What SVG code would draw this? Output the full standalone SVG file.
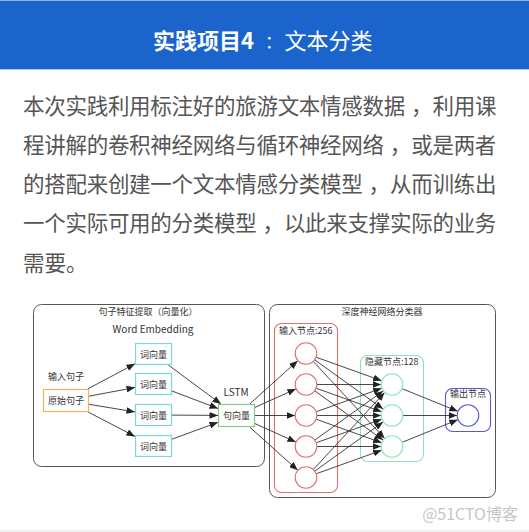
<svg xmlns="http://www.w3.org/2000/svg" width="529" height="532" viewBox="0 0 529 532">
<defs>
<marker id="ah" viewBox="0 0 10 8" refX="10" refY="4" markerWidth="8.5" markerHeight="6.8" markerUnits="userSpaceOnUse" orient="auto">
<path d="M0,0 L10,4 L0,8 Z" fill="#222"/>
</marker>
<style>
.cjk{font-family:"Noto Sans CJK SC","Noto Sans",sans-serif}
.hd{fill:#ffffff;font-size:22px}
.para{fill:#555555;font-size:21.5px}
.tight{letter-spacing:-0.28px}
.lbl{fill:#333333;font-size:9px}
.box{fill:none;stroke:#555555;stroke-width:1}
.wv{fill:#ffffff;stroke:#7dd8dc;stroke-width:1.2}
.src{fill:#ffffff;stroke:#f0b45a;stroke-width:1.2}
.sv{fill:#ffffff;stroke:#86c98a;stroke-width:1.2}
.c-in{fill:#ffffff;stroke:#e07070;stroke-width:1.1}
.c-hd{fill:#ffffff;stroke:#8fe3b8;stroke-width:1.1}
.c-out{fill:#ffffff;stroke:#5a5ad0;stroke-width:1.1}
#edges line{stroke:#333333;stroke-width:0.9;marker-end:url(#ah)}
</style>
</defs>
<rect x="0" y="0" width="529" height="532" fill="#ffffff"/>
<g id="header">
<rect x="0" y="0" width="529" height="70" fill="#1b64cc"/>
<line x1="0" y1="0.5" x2="529" y2="0.5" stroke="#8fb3e8" stroke-width="1"/>
<line x1="0" y1="69.5" x2="529" y2="69.5" stroke="#a9c6ee" stroke-width="1.2"/>
<text class="cjk hd" x="153" y="48.5" font-weight="bold">实践项目4</text>
<text class="cjk" x="265" y="47.5" style="fill:#ffffff;font-size:17px">：</text>
<text class="cjk hd" x="284.5" y="48.5">文本分类</text>
</g>
<g id="paragraph" class="cjk para">
<text class="tight" x="23" y="113.5">本次实践利用标注好的旅游文本情感数据</text>
<text x="411" y="113.5">，</text>
<text class="tight" x="432.5" y="113.5">利用课</text>
<text class="tight" x="23" y="152.5">程讲解的卷积神经网络与循环神经网络</text>
<text x="389.7" y="152.5">，</text>
<text class="tight" x="411.2" y="152.5">或是两者</text>
<text class="tight" x="23" y="192">的搭配来创建一个文本情感分类模型</text>
<text x="368.5" y="192">，</text>
<text class="tight" x="390" y="192">从而训练出</text>
<text class="tight" x="23" y="231">一个实际可用的分类模型</text>
<text x="262.4" y="231">，</text>
<text class="tight" x="283.9" y="231">以此来支撑实际的业务</text>
<text x="23" y="270.5">需要。</text>
</g>
<g id="feature-extraction">
<rect class="box" x="33.5" y="304.5" width="231" height="162" rx="8"/>
<text class="cjk lbl" x="148" y="314.5" text-anchor="middle">句子特征提取（向量化）</text>
<text class="cjk lbl" x="153" y="333" text-anchor="middle" style="font-size:10px">Word Embedding</text>
</g>
<g id="classifier">
<rect class="box" x="269.5" y="304.5" width="226" height="193" rx="8"/>
<text class="cjk lbl" x="382" y="314.5" text-anchor="middle">深度神经网络分类器</text>
</g>
<g id="input-layer">
<rect x="274.5" y="323.5" width="63" height="169" rx="7" fill="none" stroke="#e07070" stroke-width="1.1"/>
<text class="cjk lbl" x="279" y="334">输入节点:256</text>
</g>
<g id="hidden-layer">
<rect x="360.5" y="355.5" width="63" height="106" rx="7" fill="none" stroke="#8fe3b8" stroke-width="1.1"/>
<text class="cjk lbl" x="365" y="365">隐藏节点:128</text>
</g>
<g id="output-layer">
<rect x="445.5" y="388.5" width="45" height="43" rx="7" fill="none" stroke="#5a5ad0" stroke-width="1.1"/>
<text class="cjk lbl" x="468" y="397" text-anchor="middle">输出节点</text>
</g>
<g id="edges">
<line x1="87.6" y1="389" x2="135" y2="363.8"/>
<line x1="89" y1="396.2" x2="135" y2="387.5"/>
<line x1="89" y1="404.3" x2="135" y2="411.9"/>
<line x1="88.1" y1="412" x2="135" y2="436.4"/>
<line x1="168.3" y1="365" x2="221" y2="404"/>
<line x1="172" y1="391" x2="218" y2="408.5"/>
<line x1="172" y1="415.1" x2="218" y2="415.4"/>
<line x1="172" y1="439.2" x2="218" y2="422.3"/>
<line x1="249.6" y1="404" x2="297.7" y2="360.8"/>
<line x1="255" y1="407.4" x2="295.9" y2="388.9"/>
<line x1="255" y1="415.5" x2="295" y2="415.5"/>
<line x1="255" y1="423.6" x2="295.9" y2="442.1"/>
<line x1="249.6" y1="427" x2="297.7" y2="470.2"/>
<line x1="316.33" y1="357.27" x2="381.67" y2="380.73"/>
<line x1="314.89" y1="359.98" x2="383.11" y2="409.02"/>
<line x1="313.42" y1="361.62" x2="384.58" y2="438.38"/>
<line x1="317" y1="384.5" x2="381" y2="384.5"/>
<line x1="316.33" y1="388.27" x2="381.67" y2="411.73"/>
<line x1="314.89" y1="390.98" x2="383.11" y2="440.02"/>
<line x1="316.33" y1="411.73" x2="381.67" y2="388.27"/>
<line x1="317" y1="415.5" x2="381" y2="415.5"/>
<line x1="316.33" y1="419.27" x2="381.67" y2="442.73"/>
<line x1="314.89" y1="440.02" x2="383.11" y2="390.98"/>
<line x1="316.33" y1="442.73" x2="381.67" y2="419.27"/>
<line x1="317" y1="446.5" x2="381" y2="446.5"/>
<line x1="313.42" y1="469.38" x2="384.58" y2="392.62"/>
<line x1="314.89" y1="471.02" x2="383.11" y2="421.98"/>
<line x1="316.33" y1="473.73" x2="381.67" y2="450.27"/>
<line x1="402.2" y1="388.7" x2="457.8" y2="411.3"/>
<line x1="403" y1="415.5" x2="457" y2="415.5"/>
<line x1="402.2" y1="442.3" x2="457.8" y2="419.7"/>
</g>
<g id="input-sentence">
<text class="cjk lbl" x="48" y="380">输入句子</text>
<rect class="src" x="43.5" y="389.5" width="45" height="22"/>
<text class="cjk lbl" x="66" y="404" text-anchor="middle">原始句子</text>
</g>
<g id="word-vector-1">
<rect class="wv" x="135.5" y="343.5" width="36" height="21"/>
<text class="cjk lbl" x="153.5" y="357.5" text-anchor="middle">词向量</text>
</g>
<g id="word-vector-2">
<rect class="wv" x="135.5" y="373.5" width="36" height="21"/>
<text class="cjk lbl" x="153.5" y="387.5" text-anchor="middle">词向量</text>
</g>
<g id="word-vector-3">
<rect class="wv" x="135.5" y="404.5" width="36" height="21"/>
<text class="cjk lbl" x="153.5" y="418.5" text-anchor="middle">词向量</text>
</g>
<g id="word-vector-4">
<rect class="wv" x="135.5" y="435.5" width="36" height="21"/>
<text class="cjk lbl" x="153.5" y="449.5" text-anchor="middle">词向量</text>
</g>
<g id="lstm">
<text class="cjk lbl" x="236" y="396" text-anchor="middle" style="font-size:10px">LSTM</text>
<rect class="sv" x="218.5" y="404.5" width="36" height="22"/>
<text class="cjk lbl" x="236.5" y="419" text-anchor="middle">句向量</text>
</g>
<g id="input-nodes">
<circle class="c-in" cx="306" cy="353.5" r="10.8"/>
<circle class="c-in" cx="306" cy="384.5" r="10.8"/>
<circle class="c-in" cx="306" cy="415.5" r="10.8"/>
<circle class="c-in" cx="306" cy="446.5" r="10.8"/>
<circle class="c-in" cx="306" cy="477.5" r="10.8"/>
</g>
<g id="hidden-nodes">
<circle class="c-hd" cx="392" cy="384.5" r="10.8"/>
<circle class="c-hd" cx="392" cy="415.5" r="10.8"/>
<circle class="c-hd" cx="392" cy="446.5" r="10.8"/>
</g>
<g id="output-node">
<circle class="c-out" cx="468" cy="415.5" r="10.8"/>
</g>
<g id="watermark">
<text class="cjk" x="518" y="520" text-anchor="end" font-size="16" fill="#c6c6c6">@51CTO博客</text>
<line x1="0" y1="531" x2="529" y2="531" stroke="#dddddd" stroke-width="1"/>
</g>
</svg>
